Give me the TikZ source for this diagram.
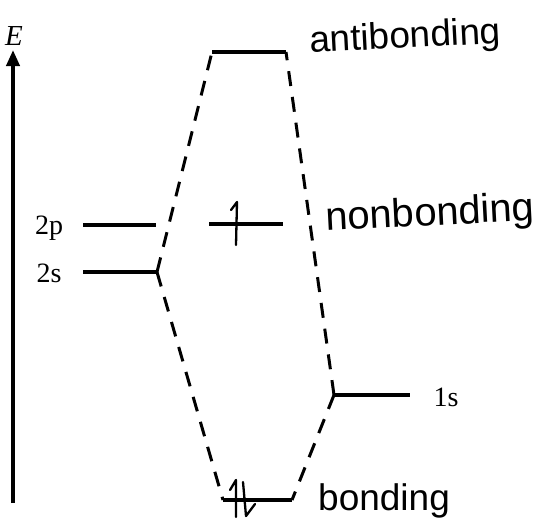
\documentclass[tikz,border=0pt]{standalone}
\usepackage{fontspec}
\setmainfont{Liberation Serif}
\newfontfamily\hand{Liberation Sans}
\newfontfamily\labfont{Liberation Serif}
\usetikzlibrary{arrows.meta}
\begin{document}
\begin{tikzpicture}[x=1pt,y=-1pt,
  level/.style={line width=3.2pt},
  conn/.style={line width=3pt, dash pattern=on 15pt off 11pt},
  elec/.style={line width=2.3pt, line join=round, line cap=round},
  lab/.style={font=\labfont\fontsize{28}{32}\selectfont, anchor=center, inner sep=0pt},
  hw/.style={font=\hand\fontsize{37}{42}\selectfont, anchor=base west, inner sep=0pt}]
\useasboundingbox (0,0) rectangle (540,525);
% energy axis
\coordinate (axb) at (13,503);
\coordinate (axt) at (13,50);
\draw[line width=3.8pt, -{Triangle[length=16pt,width=13pt]}] (axb) -- (axt);
\node[font=\labfont\itshape\fontsize{29}{32}\selectfont, inner sep=0pt] (E) at (14,36) {E};
% atomic levels (left)
\coordinate (p2a) at (83,225); \coordinate (p2b) at (156,225);
\coordinate (s2a) at (83,272); \coordinate (s2b) at (157,272);
\draw[level] (p2a) -- (p2b);
\draw[level] (s2a) -- (s2b);
\node[lab] (l2p) at (49,228) {2p};
\node[lab] (l2s) at (49,273) {2s};
% atomic level (right)
\coordinate (s1a) at (334,395); \coordinate (s1b) at (410,395);
\draw[level] (s1a) -- (s1b);
\node[lab] (l1s) at (446,397) {1s};
% molecular levels
\coordinate (aba) at (212,52); \coordinate (abb) at (286,52);
\draw[level] (aba) -- (abb);
\coordinate (nba) at (209,224); \coordinate (nbb) at (283,224);
\draw[level] (nba) -- (nbb);
\coordinate (ba) at (223,500); \coordinate (bb) at (292,500);
\draw[level] (ba) -- (bb);
% correlation lines
\draw[conn] (s2b) -- (aba);
\draw[conn] (s2b) -- (ba);
\draw[conn] (s1a) -- (abb);
\draw[conn] (s1a) -- (bb);
% electrons
\coordinate (n1) at (231,210); \coordinate (n2) at (237,202); \coordinate (n3) at (236,245);
\draw[elec] (n1) -- (n2) -- (n3);
\coordinate (b1) at (230,490); \coordinate (b2) at (236,480); \coordinate (b3) at (236,517);
\draw[elec] (b1) -- (b2) -- (b3);
\coordinate (c1) at (243,482); \coordinate (c2) at (246,516); \coordinate (c3) at (255,504);
\draw[elec] (c1) -- (c2) -- (c3);
% handwritten labels
\node[hw, rotate=3] (tab) at (310,53) {antibonding};
\node[hw, font=\hand\fontsize{40}{44}\selectfont, rotate=3] (tnb) at (326,231) {nonbonding};
\node[hw] (tb) at (318,510) {bonding};
\end{tikzpicture}
\end{document}
